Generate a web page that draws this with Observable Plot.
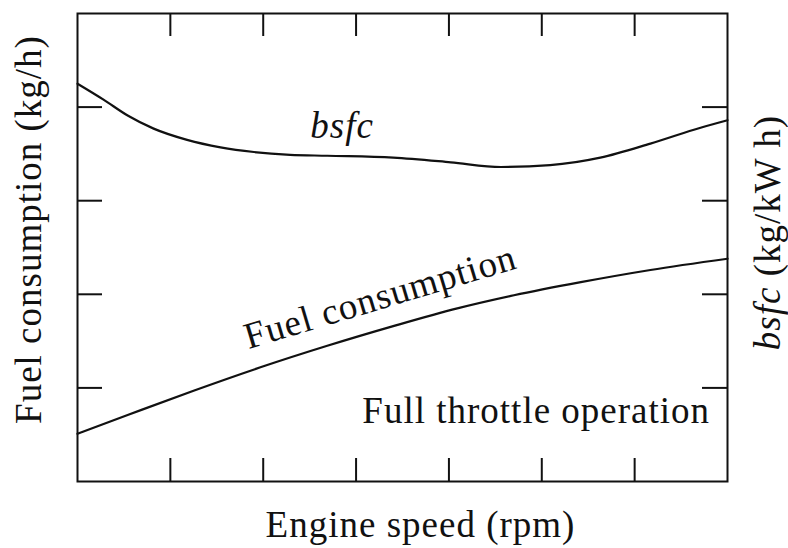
<!DOCTYPE html>
<html>
<head>
<meta charset="utf-8">
<script src="https://cdn.jsdelivr.net/npm/d3@7"></script>
<script src="https://cdn.jsdelivr.net/npm/@observablehq/plot@0.6"></script>
<style>
  html, body { margin: 0; padding: 0; background: #fff; }
  #chart svg { display: block; }
</style>
</head>
<body>
<div id="chart"></div>
<script>
// Engine speed in tick units (7 equal divisions of the speed range)
const bsfcSpeed = [0, 0.28, 0.54, 0.82, 1.18, 1.54, 1.90, 2.29, 2.69, 3.40, 4.02, 4.56, 5.09, 5.63, 6.17, 6.71, 7.0];
const bsfcValue = [4.25, 4.08, 3.91, 3.77, 3.65, 3.57, 3.52, 3.49, 3.48, 3.46, 3.41, 3.36, 3.38, 3.46, 3.61, 3.78, 3.86];

const fuelSpeed = [0, 0.54, 1.25, 1.97, 2.69, 3.40, 4.09, 4.70, 5.42, 6.17, 7.0];
const fuelValue = [0.51, 0.71, 0.97, 1.22, 1.45, 1.66, 1.85, 1.99, 2.13, 2.26, 2.38];

// Unlabelled tick positions
const xTicks = [1, 2, 3, 4, 5, 6];
const yTicks = [1, 2, 3, 4];

// In-plot annotations (position in data units, rotation in degrees)
const curveNotes = [
  {text: "Fuel consumption", x: 3.26, y: 1.97, rotate: -16.7},
  {text: "Full throttle operation", x: 4.94, y: 0.75, rotate: 0}
];
const bsfcNote = [{text: "bsfc", x: 2.85, y: 3.80}];

const W = 788, H = 548;
const mL = 77, mR = 61, mT = 13, mB = 67;
const innerW = W - mL - mR, innerH = H - mT - mB;
const serif = "'Liberation Serif', 'Times New Roman', serif";
const fs = 37;
const ink = "#111";

const bsfcData = bsfcSpeed.map((x, i) => ({x, y: bsfcValue[i]}));
const fuelData = fuelSpeed.map((x, i) => ({x, y: fuelValue[i]}));

const chart = Plot.plot({
  width: W,
  height: H,
  marginLeft: mL,
  marginRight: mR,
  marginTop: mT,
  marginBottom: mB,
  style: {fontFamily: serif, background: "#fff", color: ink, letterSpacing: "1px"},
  x: {domain: [0, 7], axis: null},
  y: {domain: [0, 5], axis: null},
  marks: [
    Plot.frame({stroke: ink, strokeWidth: 2}),
    // inward ticks on all four sides
    Plot.tickX(xTicks, {x: d => d, insetTop: innerH - 23, stroke: ink, strokeWidth: 2}),
    Plot.tickX(xTicks, {x: d => d, insetBottom: innerH - 23, stroke: ink, strokeWidth: 2}),
    Plot.tickY(yTicks, {y: d => d, insetRight: innerW - 25, stroke: ink, strokeWidth: 2}),
    Plot.tickY(yTicks, {y: d => d, insetLeft: innerW - 25, stroke: ink, strokeWidth: 2}),
    // curves
    Plot.line(bsfcData, {x: "x", y: "y", curve: "monotone-x", stroke: ink, strokeWidth: 2.2}),
    Plot.line(fuelData, {x: "x", y: "y", curve: "monotone-x", stroke: ink, strokeWidth: 2.2}),
    // annotations
    Plot.text(curveNotes, {x: "x", y: "y", text: "text", rotate: "rotate", fontSize: fs, fill: ink}),
    Plot.text(bsfcNote, {x: "x", y: "y", text: "text", fontSize: fs, fontStyle: "italic", fill: ink}),
    // axis titles
    Plot.text(["Engine speed (rpm)"], {
      frameAnchor: "bottom", textAnchor: "middle", lineAnchor: "middle",
      dx: 18, dy: 44, fontSize: fs, fill: ink
    }),
    Plot.text(["Fuel consumption (kg/h)"], {
      frameAnchor: "left", textAnchor: "middle", lineAnchor: "middle", rotate: -90,
      dx: -48, dy: -18, fontSize: fs, fill: ink
    }),
    Plot.text(["bsfc (kg/kW h)"], {
      frameAnchor: "right", textAnchor: "middle", lineAnchor: "middle", rotate: -90,
      dx: 41, dy: -15, fontSize: fs, fill: ink
    })
  ]
});

// italicise the variable name within the right-hand axis title
chart.querySelectorAll("text").forEach(t => {
  if (t.textContent === "bsfc (kg/kW h)") {
    t.textContent = "";
    const a = document.createElementNS("http://www.w3.org/2000/svg", "tspan");
    a.setAttribute("font-style", "italic");
    a.textContent = "bsfc";
    const b = document.createElementNS("http://www.w3.org/2000/svg", "tspan");
    b.textContent = " (kg/kW h)";
    t.appendChild(a);
    t.appendChild(b);
  }
});

document.getElementById("chart").appendChild(chart);
</script>
</body>
</html>
